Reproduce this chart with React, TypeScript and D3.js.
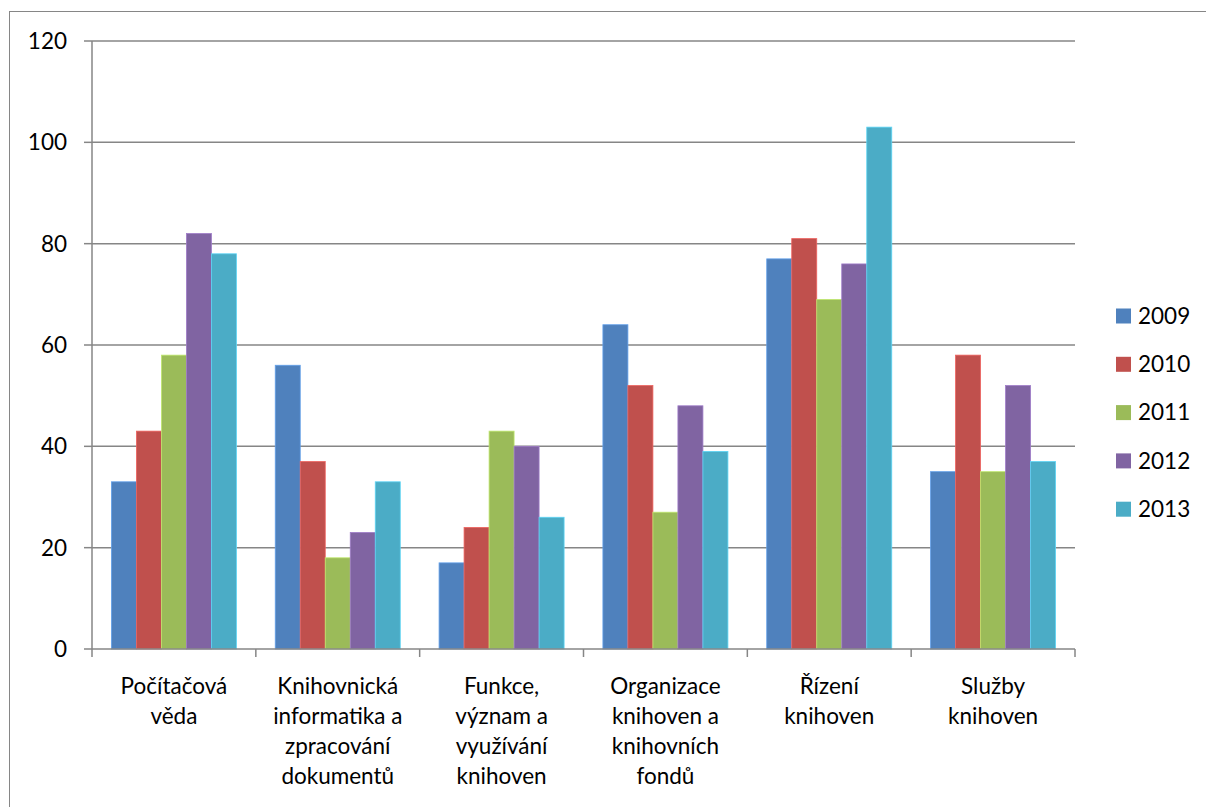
import React, { useEffect, useRef } from 'react';
import * as d3 from 'd3';

const categories = [
  ['Počítačová', 'věda'],
  ['Knihovnická', 'informatika a', 'zpracování', 'dokumentů'],
  ['Funkce,', 'význam a', 'využívání', 'knihoven'],
  ['Organizace', 'knihoven a', 'knihovních', 'fondů'],
  ['Řízení', 'knihoven'],
  ['Služby', 'knihoven'],
];
const years = ['2009', '2010', '2011', '2012', '2013'];
const v2009 = [33, 56, 17, 64, 77, 35];
const v2010 = [43, 37, 24, 52, 81, 58];
const v2011 = [58, 18, 43, 27, 69, 35];
const v2012 = [82, 23, 40, 48, 76, 52];
const v2013 = [78, 33, 26, 39, 103, 37];
const yTicks = [0, 20, 40, 60, 80, 100, 120];
const colors = ['#4F81BD', '#C0504D', '#9BBB59', '#8064A2', '#4BACC6'];

const series = [v2009, v2010, v2011, v2012, v2013];

const App = () => {
  const ref = useRef(null);

  useEffect(() => {
    const svg = d3.select(ref.current);
    svg.selectAll('*').remove();
    const font = 'Lato, "Open Sans", sans-serif';
    const fs = 22.5;
    const grey = '#868686';

    svg.append('rect')
      .attr('x', 9.5).attr('y', 11.5)
      .attr('width', 1205).attr('height', 805)
      .attr('fill', 'white').attr('stroke', grey).attr('stroke-width', 1);

    const left = 92, right = 1075, top = 41, bottom = 649;
    const keys = categories.map((_, i) => String(i));
    const x0 = d3.scaleBand().domain(keys).range([left, right]).padding(0);
    const x1 = d3.scaleBand().domain(years).range([0, x0.bandwidth()])
      .paddingInner(0).paddingOuter(0.776);
    const y = d3.scaleLinear().domain([0, 120]).range([bottom, top]);

    // gridlines
    svg.append('g').selectAll('line').data(yTicks.filter(t => t > 0)).enter()
      .append('line')
      .attr('x1', left).attr('x2', right)
      .attr('y1', d => y(d)).attr('y2', d => y(d))
      .attr('stroke', grey).attr('stroke-width', 1.5);

    // y tick marks + labels
    const ya = svg.append('g');
    ya.selectAll('line').data(yTicks).enter().append('line')
      .attr('x1', left - 8).attr('x2', left)
      .attr('y1', d => y(d)).attr('y2', d => y(d))
      .attr('stroke', grey).attr('stroke-width', 1.5);
    ya.selectAll('text').data(yTicks).enter().append('text')
      .attr('x', 67).attr('y', d => y(d)).attr('dy', '0.35em')
      .attr('text-anchor', 'end')
      .attr('font-family', font).attr('font-size', fs).attr('fill', '#000')
      .text(d => d);

    // bars
    series.forEach((vals, si) => {
      svg.append('g').selectAll('rect').data(vals).enter().append('rect')
        .attr('x', (d, i) => (x0(String(i)) ?? 0) + (x1(years[si]) ?? 0))
        .attr('y', d => y(d))
        .attr('width', x1.bandwidth())
        .attr('height', d => y(0) - y(d))
        .attr('fill', colors[si])
        .attr('stroke', d3.color(colors[si])!.brighter(0.6).formatHex())
        .attr('stroke-width', 0.8);
    });

    // axes lines
    svg.append('line').attr('x1', left).attr('x2', left)
      .attr('y1', top).attr('y2', bottom)
      .attr('stroke', grey).attr('stroke-width', 1.5);
    svg.append('line').attr('x1', left).attr('x2', right)
      .attr('y1', bottom).attr('y2', bottom)
      .attr('stroke', grey).attr('stroke-width', 1.5);

    const bounds = keys.map(k => x0(k) ?? 0).concat([right]);
    svg.append('g').selectAll('line').data(bounds).enter().append('line')
      .attr('x1', d => d).attr('x2', d => d)
      .attr('y1', bottom).attr('y2', bottom + 8)
      .attr('stroke', grey).attr('stroke-width', 1.5);

    // category labels
    categories.forEach((lines, i) => {
      const cx = (x0(String(i)) ?? 0) + x0.bandwidth() / 2;
      const t = svg.append('text')
        .attr('text-anchor', 'middle')
        .attr('font-family', font).attr('font-size', fs).attr('fill', '#000');
      lines.forEach((ln, j) => {
        t.append('tspan').attr('x', cx).attr('y', 686 + j * 30).attr('dy', '0.35em').text(ln);
      });
    });

    // legend
    const lg = svg.append('g');
    years.forEach((yr, i) => {
      const cy = 316 + i * 48.3;
      lg.append('rect').attr('x', 1116).attr('y', cy - 7.5)
        .attr('width', 15).attr('height', 15).attr('fill', colors[i]);
      lg.append('text').attr('x', 1138).attr('y', cy).attr('dy', '0.35em')
        .attr('font-family', font).attr('font-size', fs).attr('fill', '#000')
        .text(yr);
    });
  }, []);

  return (
    <svg ref={ref} width={1206} height={807}
      style={{ position: 'absolute', left: 0, top: 0, background: 'white' }} />
  );
};

export default App;
